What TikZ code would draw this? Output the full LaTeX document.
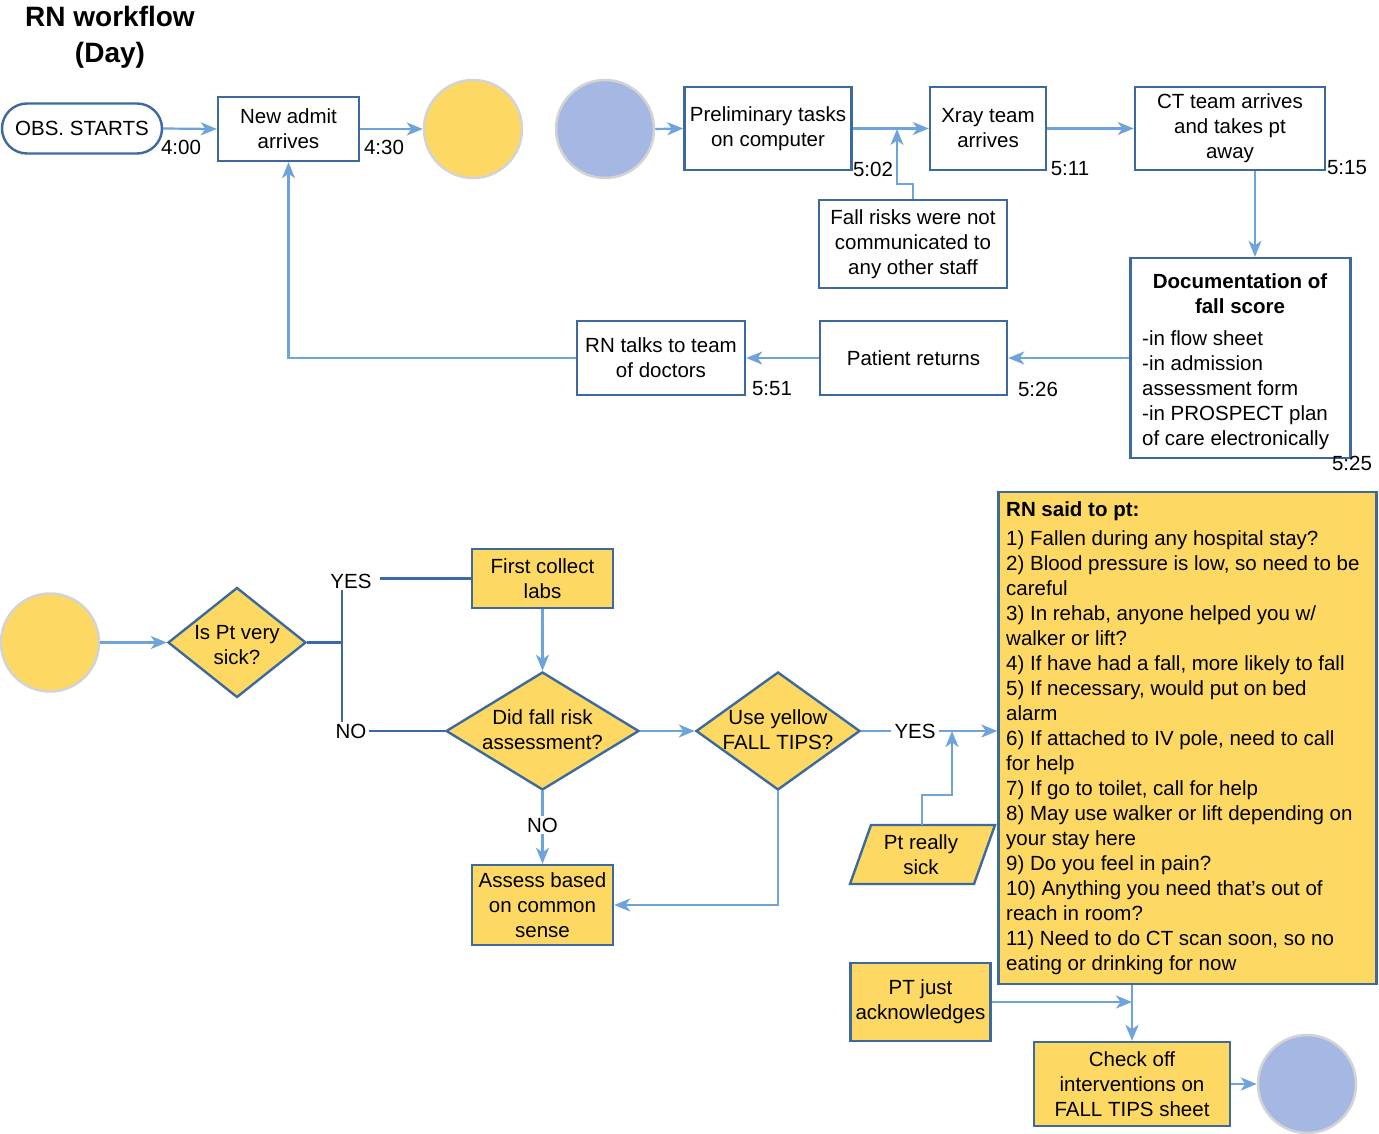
\documentclass[tikz,border=0pt]{standalone}
\usepackage{fontspec}
\setmainfont{Liberation Sans}
\usetikzlibrary{shapes.geometric,arrows.meta,calc}
\definecolor{dkb}{HTML}{3D6A9E}
\definecolor{ltb}{HTML}{6FA3DC}
\definecolor{yel}{HTML}{FDD963}
\definecolor{lav}{HTML}{A5B8E4}
\definecolor{gry}{HTML}{D3D3D3}
\newcommand{\myfnt}{\fontsize{20.5}{25}\selectfont}
\tikzset{
  every node/.style={font=\myfnt, inner sep=1pt},
  boxn/.style={rectangle, draw=dkb, line width=2.4pt, fill=white, align=center},
  ybox/.style={boxn, fill=yel},
  pilln/.style={boxn, rounded corners=25pt},
  circy/.style={circle, draw=gry, line width=2.5pt, fill=yel, minimum size=98pt},
  circl/.style={circle, draw=gry, line width=2.5pt, fill=lav, minimum size=98pt},
  dia/.style={diamond, draw=dkb, line width=2.4pt, fill=yel, inner sep=0pt},
  tlabel/.style={inner sep=0pt},
  ln/.style={draw=ltb, line width=2.2pt},
  lnd/.style={draw=dkb, line width=2.4pt},
  arr/.style={ln, -{Stealth[length=16pt,width=13pt,inset=4.5pt]}},
}
\begin{document}
\begin{tikzpicture}[x=1pt,y=-1pt]
\useasboundingbox (0,0) rectangle (1379,1134);
% title
\node[align=center, font=\fontsize{28}{36}\selectfont\bfseries] (title) at (110,37) {RN workflow\\(Day)};
% top row
\node[pilln, minimum width=160pt, minimum height=50pt] (obs) at (82,128.5) {OBS. STARTS};
\node[boxn, minimum width=141pt, minimum height=64pt] (new) at (288.5,129) {New admit\\arrives};
\node[circy] (yc1) at (473,129) {};
\node[circl] (lc1) at (605,129) {};
\node[boxn, minimum width=167pt, minimum height=83pt] (prelim) at (768,128.5) {Preliminary tasks\\on computer};
\node[boxn, minimum width=116pt, minimum height=83pt] (xray) at (988,128.5) {Xray team\\arrives};
\node[boxn, minimum width=190pt, minimum height=83pt] (ct) at (1230,128.5) {CT team arrives\\and takes pt\\away};
\node[boxn, minimum width=188pt, minimum height=88pt] (fall) at (913,244) {Fall risks were not\\communicated to\\any other staff};
\node[boxn, minimum width=220pt, minimum height=200pt] (doc) at (1240.5,358) {};
\node[align=center, font=\myfnt\bfseries] (doctitle) at (1240,294) {Documentation of\\fall score};
\node[align=left, anchor=west, inner sep=0pt] (doclist) at (1142,390) {-in flow sheet\\-in admission\\assessment form\\-in PROSPECT plan\\of care electronically};
\node[boxn, minimum width=187pt, minimum height=74pt] (patient) at (913.5,358) {Patient returns};
\node[boxn, minimum width=168pt, minimum height=74pt] (rntalk) at (661,358) {RN talks to team\\of doctors};
% time labels
\node[tlabel] (t400) at (181,147) {4:00};
\node[tlabel] (t430) at (384,147) {4:30};
\node[tlabel] (t502) at (873,169) {5:02};
\node[tlabel] (t511) at (1070,169) {5:11};
\node[tlabel] (t515) at (1347,168) {5:15};
\node[tlabel] (t525) at (1352,463) {5:25};
\node[tlabel] (t526) at (1038,389) {5:26};
\node[tlabel] (t551) at (772,389) {5:51};
% top connectors
\coordinate (j1) at (897,129);
\draw[arr] (obs.east) -- (new.west);
\draw[arr] (new.east) -- (yc1.west);
\draw[arr] (lc1.east) -- (prelim.west);
\draw[arr] (prelim.east) -- (xray.west);
\draw[arr] (fall.north) -- ++(0,-15) -| (j1);
\draw[arr] (xray.east) -- (ct.west);
\draw[arr] ([xshift=25pt]ct.south) -- ([xshift=25pt]ct.south |- doc.north);
\draw[arr] (doc.west |- patient.east) -- (patient.east);
\draw[arr] (patient.west) -- (rntalk.east);
\draw[arr] (rntalk.west) -| (new.south);
% bottom
\node[circy] (yc2) at (50,642.5) {};
\node[dia, minimum width=138pt, minimum height=110pt] (d1) at (237,642.5) {};
\node[align=center] (d1t) at (237,645) {Is Pt very\\sick?};
\node[ybox, minimum width=141pt, minimum height=59pt] (fc) at (542.5,578.5) {First collect\\labs};
\node[dia, minimum width=193pt, minimum height=118pt] (d2) at (542.5,731) {};
\node[align=center] (d2t) at (542.5,730) {Did fall risk\\assessment?};
\node[ybox, minimum width=141pt, minimum height=80pt] (assess) at (542.5,905) {Assess based\\on common\\sense};
\node[dia, minimum width=164pt, minimum height=118pt] (d3) at (778,731) {};
\node[align=center] (d3t) at (778,730) {Use yellow\\FALL TIPS?};
\draw[dkb, line width=2.4pt, fill=yel] (850,884) -- (871,825) -- (995,825) -- (974,884) -- cycle;
\node[align=center] (prs) at (921,855) {Pt really\\sick};
\coordinate (prstop) at (922,825);
\node[ybox, minimum width=378pt, minimum height=492pt] (rn) at (1187.5,738) {};
\node[align=left, anchor=north west, inner sep=0pt] (rntext) at (1006,501) {{\bfseries RN said to pt:}\\[4pt]
1) Fallen during any hospital stay?\\
2) Blood pressure is low, so need to be\\
careful\\
3) In rehab, anyone helped you w/\\
walker or lift?\\
4) If have had a fall, more likely to fall\\
5) If necessary, would put on bed\\
alarm\\
6) If attached to IV pole, need to call\\
for help\\
7) If go to toilet, call for help\\
8) May use walker or lift depending on\\
your stay here\\
9) Do you feel in pain?\\
10) Anything you need that’s out of\\
reach in room?\\
11) Need to do CT scan soon, so no\\
eating or drinking for now};
\node[ybox, minimum width=140pt, minimum height=78pt] (ptjust) at (920.5,1002) {PT just\\acknowledges};
\node[ybox, minimum width=196pt, minimum height=84pt] (check) at (1132,1084) {Check off\\interventions on\\FALL TIPS sheet};
\node[circl] (lc2) at (1307,1084) {};
% labels
\node[inner sep=2pt] (yes1) at (351,581) {YES};
\node[inner sep=2pt] (no1) at (351,731) {NO};
\node[inner sep=2pt] (no2) at (542.5,825) {NO};
\node[inner sep=3pt] (yes2) at (915,731) {YES};
\coordinate (j2) at (342,642.5);
\coordinate (j3) at (952,731);
% bottom connectors
\draw[arr] (yc2.east) -- (d1.west);
\draw[lnd] (d1.east) -- (j2);
\draw[lnd] (j2 |- yes1.south) -- (j2 |- no1.north);
\draw[lnd] ([xshift=6pt]yes1.east |- fc.west) -- (fc.west);
\draw[lnd] (no1.east) -- (d2.west);
\draw[arr] (fc.south) -- (d2.north);
\draw[ln] (d2.south) -- (no2.north);
\draw[arr] (no2.south) -- (assess.north);
\draw[arr] (d2.east) -- (d3.west);
\draw[arr] (d3.south) |- (assess.east);
\draw[ln] (d3.east) -- (yes2.west);
\draw[arr] (yes2.east) -- (rn.west |- yes2.east);
\draw[arr] (prstop) -- ++(0,-30) -| (j3);
\draw[arr] (ptjust.east) -- (check.north |- ptjust.east);
\draw[arr] (check.north |- rn.south) -- (check.north);
\draw[arr] (check.east) -- (lc2.west);
\end{tikzpicture}
\end{document}
